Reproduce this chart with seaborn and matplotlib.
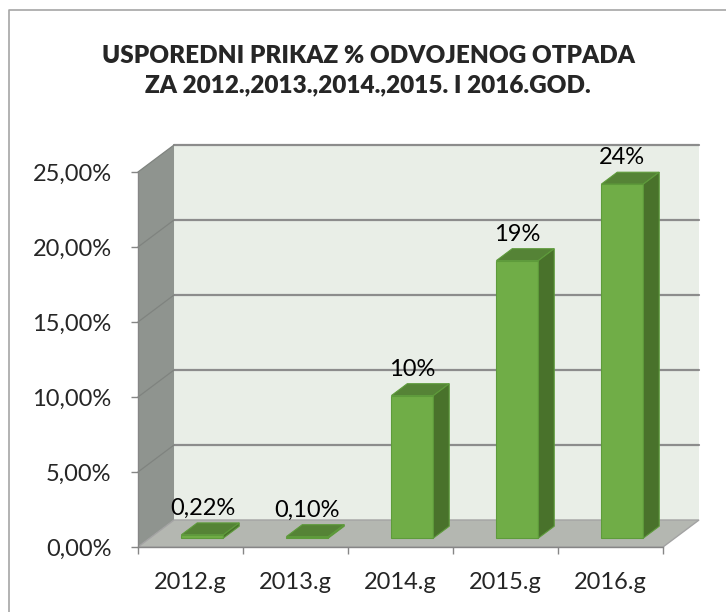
import matplotlib
matplotlib.use("Agg")
import matplotlib.pyplot as plt
import seaborn as sns
from matplotlib.patches import Polygon, Rectangle
from matplotlib.lines import Line2D

# data
years = ["2012.g", "2013.g", "2014.g", "2015.g", "2016.g"]
share = [0.0022, 0.0010, 0.095, 0.185, 0.236]
bar_labels = ["0,22%", "0,10%", "10%", "19%", "24%"]
y_ticks = [0, 0.05, 0.10, 0.15, 0.20, 0.25]
y_tick_labels = ["0,00%", "5,00%", "10,00%", "15,00%", "20,00%", "25,00%"]
title = "USPOREDNI PRIKAZ % ODVOJENOG OTPADA\nZA 2012.,2013.,2014.,2015. I 2016.GOD."

sns.set_style("white")
plt.rcParams["font.family"] = ["Lato", "DejaVu Sans"]

W, H = 726, 612
fig = plt.figure(figsize=(W / 100, H / 100), dpi=100)

# fake 3d box: depth offsets in data units
x0, x1, top = -0.5, 4.5, 0.25
dx, dy = 0.343, 0.018
xmax, ymax = x1 + dx + 0.05, top + dy + 0.002
px_x, px_y = 105, 1500  # pixels per data unit
ax = fig.add_axes([138 / W, 65 / H, (xmax - x0) * px_x / W, ymax * px_y / H])

# back wall, left wall, floor
ax.add_patch(Rectangle((x0 + dx, dy), x1 - x0, top, fc="#e9eee7", ec="none", zorder=0))
ax.add_patch(Polygon([(x0, 0), (x0 + dx, dy), (x0 + dx, top + dy), (x0, top)],
                     fc="#8f948f", ec="none", zorder=1))
ax.add_patch(Polygon([(x0, 0), (x1, 0), (x1 + dx, dy), (x0 + dx, dy)],
                     fc="#b4b7b1", ec="#a3a3a3", lw=1, zorder=1))
for v in y_ticks[1:]:
    ax.plot([x0 + dx, x1 + dx], [v + dy, v + dy], color="#8c8c8c", lw=1.6, zorder=0.5, clip_on=False)
    ax.plot([x0, x0 + dx], [v, v + dy], color="#7f837f", lw=0.9, zorder=1.5, clip_on=False)

# bars
sns.barplot(x=years, y=share, width=0.4, color="#70ad47", saturation=1,
            edgecolor="#5e9b3b", linewidth=0.8, ax=ax, zorder=3)

fx, fy = dx * 0.33, dy * 0.33   # where the front faces sit
bx, by = dx * 0.44, dy * 0.44   # depth of a bar
for bar, lab in zip(ax.containers[0], bar_labels):
    bar.set_x(bar.get_x() + fx)
    bar.set_y(bar.get_y() + fy)
    x, y, w, h = bar.get_x(), bar.get_y(), bar.get_width(), bar.get_height()
    ax.add_patch(Polygon([(x, y + h), (x + w, y + h), (x + w + bx, y + h + by), (x + bx, y + h + by)],
                         fc="#558336", ec="#5e9b3b", lw=0.8, zorder=3))
    ax.add_patch(Polygon([(x + w, y), (x + w + bx, y + by), (x + w + bx, y + h + by), (x + w, y + h)],
                         fc="#49722b", ec="#5e9b3b", lw=0.8, zorder=3))
    ax.annotate(lab, (x + w / 2, y + h + by), xytext=(0, 3), textcoords="offset points",
                ha="center", va="bottom", fontsize=17, color="black", zorder=4)

# axes
ax.set_xlim(x0, xmax)
ax.set_ylim(0, ymax)
ax.set_xlabel("")
ax.set_ylabel("")
ax.set_yticks(y_ticks, y_tick_labels)
ax.set_xticks(range(len(years)), years)
ax.set_xticks([x0 + i for i in range(len(years) + 1)], minor=True)
ax.tick_params(axis="x", which="major", bottom=True, length=0, pad=18, labelsize=17)
ax.tick_params(axis="x", which="minor", bottom=True, length=5, width=1, color="#868686")
ax.tick_params(axis="y", left=True, length=5, width=1, color="#868686", pad=14, labelsize=17)
for s in ["top", "right"]:
    ax.spines[s].set_visible(False)
ax.spines["left"].set_bounds(0, top)
ax.spines["bottom"].set_bounds(x0, x1)
for s in ["left", "bottom"]:
    ax.spines[s].set_color("#868686")
    ax.spines[s].set_linewidth(1)
    ax.spines[s].set_zorder(2)

fig.text(368 / W, 1 - 71 / H, title, ha="center", va="center", fontsize=17.5,
         fontweight="heavy", linespacing=1.4)

# chart frame
fig.add_artist(Line2D([9 / W, 9 / W, 1], [0, 1 - 10 / H, 1 - 10 / H],
                      transform=fig.transFigure, color="#a6a6a6", lw=1.2))

fig.savefig("out.png", dpi=100)
